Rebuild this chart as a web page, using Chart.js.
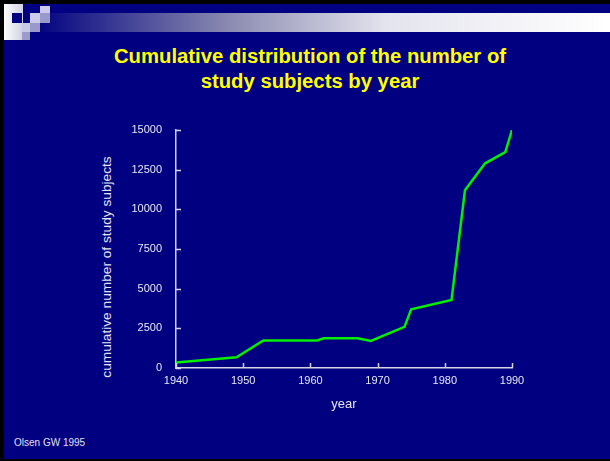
<!DOCTYPE html>
<html>
<head>
<meta charset="utf-8">
<script src="https://cdn.jsdelivr.net/npm/chart.js@4"></script>
<style>
  html, body { margin: 0; padding: 0; }
  body { width: 610px; height: 461px; background: #000080; position: relative; overflow: hidden; font-family: "Liberation Sans", Arial, sans-serif; }
  .frame-top { position: absolute; left: 0; top: 0; width: 610px; height: 4px; background: #000; }
  .frame-left { position: absolute; left: 0; top: 0; width: 4px; height: 461px; background: #000; }
  .frame-bottom { position: absolute; left: 0; top: 459px; width: 610px; height: 2px; background: #000; }
  .band { position: absolute; left: 22px; top: 13px; width: 588px; height: 19px;
          background: linear-gradient(to right, #000080 2%, #8a8ab0 35%, #e4e4ee 62%, #ffffff 100%); }
  .sq { position: absolute; }
  .title { position: absolute; left: 0; top: 44px; width: 620px; text-align: center; color: #ffff00;
           font-weight: bold; font-size: 20.3px; line-height: 25px; }
  .ytitle { position: absolute; left: 106px; top: 267px; transform: translate(-50%, -50%) rotate(-90deg);
            white-space: nowrap; color: #e6e6f2; font-size: 13.7px; }
  .source { position: absolute; left: 14px; top: 437px; color: #e0e0f0; font-size: 10px; }
  #chart { position: absolute; left: 0; top: 0; }
</style>
</head>
<body>
<div class="frame-top"></div>
<div class="frame-left"></div>
<div class="band"></div>
<div class="sq" style="left:4px;top:4px;width:19px;height:36px;background:linear-gradient(to right,#ffffff,#d0d0e4);"></div>
<div class="sq" style="left:12px;top:13px;width:10px;height:10px;background:#000080;"></div>
<div class="sq" style="left:40px;top:6px;width:10px;height:7px;background:#ccccea;"></div>
<div class="sq" style="left:30px;top:13px;width:10px;height:10px;background:#ccccea;"></div>
<div class="sq" style="left:40px;top:13px;width:10px;height:10px;background:#9999cc;"></div>
<div class="sq" style="left:22px;top:23px;width:8px;height:9px;background:#c8c8e8;"></div>
<div class="sq" style="left:30px;top:23px;width:10px;height:9px;background:#9999cc;"></div>
<div class="sq" style="left:22px;top:32px;width:8px;height:8px;background:#9c9ccc;"></div>
<div class="frame-bottom"></div>

<div class="title">Cumulative distribution of the number of<br>study subjects by year</div>
<div class="ytitle">cumulative number of study subjects</div>
<div class="source">Olsen GW 1995</div>

<canvas id="chart" width="610" height="461"></canvas>

<script>
// cumulative count of study subjects, by year
var years    = [1940, 1949, 1953, 1961, 1962, 1967, 1969, 1974, 1975, 1981, 1983, 1986, 1989, 1990];
var subjects = [340, 680, 1730, 1730, 1870, 1870, 1700, 2590, 3700, 4290, 11200, 12900, 13600, 15000];

var yearTicks = [1940, 1950, 1960, 1970, 1980, 1990];
var countTicks = [0, 2500, 5000, 7500, 10000, 12500, 15000];

var axisColor = '#d4d4e6';
var labelColor = '#e6e6f2';

var points = [];
for (var i = 0; i < years.length; i++) {
    points.push({x: years[i], y: subjects[i]});
}

// short tick marks pointing into the plot area
var innerTicks = {
    id: 'innerTicks',
    afterDatasetsDraw: function(chart) {
        var ctx = chart.ctx,
            xs = chart.scales.x,
            ys = chart.scales.y,
            area = chart.chartArea;
        ctx.save();
        ctx.strokeStyle = axisColor;
        ctx.lineWidth = 1.5;
        ctx.beginPath();
        countTicks.forEach(function(v) {
            var py = Math.round(ys.getPixelForValue(v)) + 0.5;
            ctx.moveTo(area.left, py);
            ctx.lineTo(area.left + 5, py);
        });
        yearTicks.forEach(function(v) {
            var px = Math.round(xs.getPixelForValue(v)) + 0.5;
            ctx.moveTo(px, area.bottom);
            ctx.lineTo(px, area.bottom - 5);
        });
        ctx.stroke();
        ctx.restore();
    }
};

var font = {family: '"Liberation Sans", Arial, sans-serif', size: 11};
// grid kept on (invisible) so the label offsets stay as set below
var hiddenGrid = {display: true, drawOnChartArea: false, drawTicks: false, color: 'rgba(0,0,0,0)'};

new Chart(document.getElementById('chart').getContext('2d'), {
    type: 'line',
    data: {
        datasets: [{
            data: points,
            borderColor: '#00f000',
            borderWidth: 2.5,
            pointRadius: 0,
            tension: 0,
            fill: false
        }]
    },
    options: {
        responsive: false,
        animation: false,
        layout: {padding: {left: 97, right: 98, top: 130, bottom: 49}},
        plugins: {legend: {display: false}, tooltip: {enabled: false}},
        scales: {
            x: {
                type: 'linear',
                min: 1940,
                max: 1990,
                afterFit: function(scale) { scale.height = 44; },
                afterBuildTicks: function(scale) {
                    scale.ticks = yearTicks.map(function(v) { return {value: v}; });
                },
                grid: hiddenGrid,
                border: {display: true, color: axisColor, width: 1.5},
                ticks: {color: labelColor, font: font, padding: 6, maxRotation: 0,
                        callback: function(v) { return String(v); }},
                title: {display: true, text: 'year', color: labelColor,
                        font: {family: font.family, size: 13}, padding: 0}
            },
            y: {
                min: 0,
                max: 15000,
                afterFit: function(scale) { scale.width = 79; },
                afterBuildTicks: function(scale) {
                    scale.ticks = countTicks.map(function(v) { return {value: v}; });
                },
                grid: hiddenGrid,
                border: {display: true, color: axisColor, width: 1.5},
                ticks: {color: labelColor, font: font, padding: 14,
                        callback: function(v) { return String(v); }}
            }
        }
    },
    plugins: [innerTicks]
});
</script>
</body>
</html>
